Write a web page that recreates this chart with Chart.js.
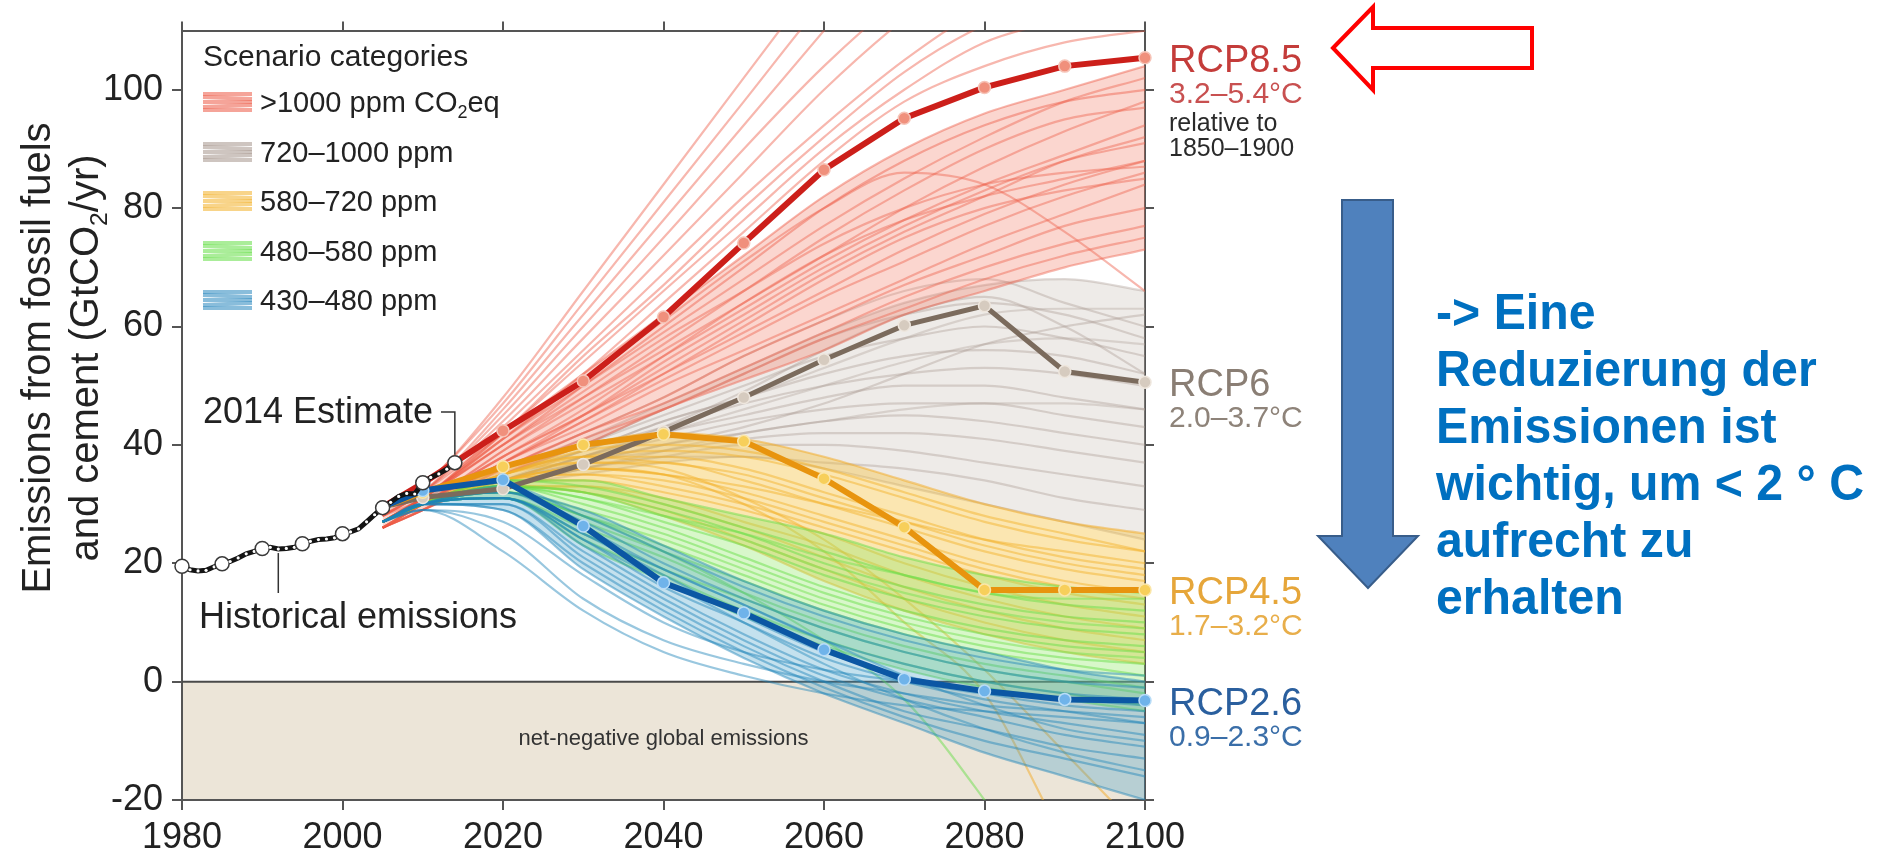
<!DOCTYPE html>
<html>
<head>
<meta charset="utf-8">
<script src="https://cdn.jsdelivr.net/npm/chart.js@4.4.1/dist/chart.umd.min.js"></script>
<style>
  html, body { margin: 0; padding: 0; background: #fff; }
  #wrap { position: relative; width: 1879px; height: 860px; overflow: hidden; background: #fff; }
  #c { position: absolute; left: 0; top: 0; }
  #arrows { position: absolute; left: 0; top: 0; }
  #note {
    position: absolute; left: 1436px; top: 284px;
    font: bold 50px 'Liberation Sans', Arial, sans-serif;
    line-height: 57px; color: #0070C0; white-space: nowrap;
    transform: scaleX(0.965); transform-origin: left top;
  }
</style>
</head>
<body>
<div id="wrap">
  <canvas id="c" width="1879" height="860"></canvas>
  <svg id="arrows" width="1879" height="860">
    <polygon points="1333,48 1373,7 1373,28 1532,28 1532,68 1373,68 1373,90"
             fill="none" stroke="#FF0000" stroke-width="4" stroke-linejoin="miter"/>
    <polygon points="1342,200 1393,200 1393,536 1418,536 1368,588 1318,536 1342,536"
             fill="#4F81BD" stroke="#385D8A" stroke-width="2"/>
  </svg>
  <div id="note">-&gt; Eine<br>Reduzierung der<br>Emissionen ist<br>wichtig, um &lt; 2 ° C<br>aufrecht zu<br>erhalten</div>
</div>
<script>
// ---- axis ticks ----
const xTicks = [1980, 2000, 2020, 2040, 2060, 2080, 2100];
const yTicks = [-20, 0, 20, 40, 60, 80, 100];

// ---- historical emissions (GtCO2/yr) ----
const histYears = [1980, 1981, 1982, 1983, 1984, 1985, 1986, 1987, 1988, 1989,
                   1990, 1991, 1992, 1993, 1994, 1995, 1996, 1997, 1998, 1999,
                   2000, 2001, 2002, 2003, 2004, 2005, 2006, 2007, 2008, 2009,
                   2010, 2011, 2012, 2013, 2014];
const histValues = [19.5, 18.9, 18.7, 18.8, 19.4, 19.9, 20.3, 20.9, 21.6, 22.0,
                    22.5, 22.7, 22.4, 22.5, 22.7, 23.3, 23.7, 24.0, 24.1, 24.3,
                    25.0, 25.3, 25.8, 27.0, 28.2, 29.4, 30.3, 31.3, 31.8, 31.7,
                    33.6, 34.5, 35.1, 35.9, 37.0];
const histMarkerYears = [1980, 1985, 1990, 1995, 2000, 2005, 2010, 2014];

// ---- RCP pathways ----
const rcpYears = [2005, 2010, 2020, 2030, 2040, 2050, 2060, 2070, 2080, 2090, 2100];
const rcp85 = [29.5, 33.5, 42.4, 50.8, 61.6, 74.1, 86.5, 95.2, 100.4, 104.0, 105.4];
const rcp6  = [29.5, 31.1, 32.6, 36.7, 42.2, 48.0, 54.4, 60.2, 63.5, 52.4, 50.6];
const rcp45 = [29.5, 32.0, 36.3, 40.0, 41.8, 40.6, 34.3, 26.1, 15.5, 15.5, 15.5];
const rcp26 = [29.5, 32.3, 34.1, 26.3, 16.7, 11.6, 5.4, 0.4, -1.6, -3.0, -3.2];
const rcpNames  = ['RCP8.5', 'RCP6', 'RCP4.5', 'RCP2.6'];
const rcpRanges = ['3.2–5.4°C', '2.0–3.7°C', '1.7–3.2°C', '0.9–2.3°C'];

// ---- scenario database pathways, by concentration category ----
const scenYears = [2005, 2010, 2020, 2030, 2040, 2050, 2060, 2070, 2080, 2090, 2100];
const scenOver1000 = [
  [29, 33, 48, 66, 84, 102, 120, 138, 150, 160, 170],
  [28, 33, 47, 64, 81, 98, 115, 130, 142, 150, 156],
  [28, 32, 46, 62, 78, 94, 110, 126, 140, 150, 160],
  [28, 32, 45, 60, 75, 90, 104, 116, 126, 134, 140],
  [28, 32, 44, 58, 72, 86, 100, 112, 122, 130, 138],
  [28, 31, 43, 56, 69, 82, 94, 105, 114, 120, 125],
  [27, 31, 42, 55, 67, 80, 92, 103, 111, 116, 120],
  [27, 31, 42, 54, 66, 78, 90, 100, 108, 112, 116],
  [27, 31, 40, 50, 60, 70, 80, 88, 94, 98, 100],
  [28, 32, 42, 52, 62, 72, 82, 90, 96, 100, 104],
  [27, 31, 41, 50, 59, 68, 77, 85, 92, 98, 102],
  [27, 31, 40, 48, 56, 64, 72, 80, 87, 93, 98],
  [27, 31, 41, 51, 61, 71, 80, 86, 84, 76, 66],
  [27, 31, 40, 49, 58, 66, 74, 80, 84, 86, 87],
  [27, 30, 39, 47, 55, 63, 71, 78, 84, 89, 94],
  [26, 30, 38, 46, 55, 64, 72, 78, 82, 85, 88],
  [26, 30, 38, 45, 53, 61, 69, 76, 82, 88, 92],
  [26, 30, 38, 45, 52, 59, 66, 73, 79, 84, 88],
  [26, 30, 37, 44, 52, 60, 68, 75, 80, 83, 85],
  [26, 30, 37, 44, 51, 58, 65, 71, 77, 82, 86],
  [26, 29, 37, 43, 50, 56, 62, 68, 74, 79, 84],
  [26, 29, 36, 42, 48, 55, 61, 67, 72, 77, 80],
  [26, 29, 36, 42, 47, 53, 59, 65, 70, 74, 77],
  [26, 29, 35, 41, 46, 52, 58, 63, 68, 72, 75],
  [26, 29, 35, 40, 46, 51, 56, 62, 66, 70, 73],
  [27, 30, 39, 48, 57, 66, 75, 83, 90, 95, 97],
  [26, 30, 37, 45, 54, 62, 70, 77, 83, 88, 91],
  [27, 31, 41, 52, 64, 76, 88, 98, 104, 108, 110]
];
const scen720to1000 = [
  [27, 31, 36, 42, 48, 55, 61, 66, 68, 64, 60],
  [27, 30, 35, 40, 46, 52, 58, 62, 64, 62, 58],
  [27, 30, 35, 40, 45, 50, 55, 58, 60, 58, 55],
  [27, 30, 35, 39, 44, 48, 52, 55, 56, 55, 52],
  [27, 30, 34, 39, 43, 47, 50, 52, 53, 52, 50],
  [27, 30, 34, 38, 42, 45, 48, 50, 50, 48, 46],
  [27, 30, 34, 38, 41, 44, 46, 47, 47, 45, 43],
  [27, 30, 34, 37, 40, 42, 44, 45, 44, 42, 40],
  [27, 30, 33, 37, 39, 41, 42, 42, 41, 39, 37],
  [27, 30, 33, 36, 38, 40, 40, 39, 37, 35, 33],
  [27, 30, 33, 36, 38, 38, 37, 36, 34, 31, 29],
  [27, 30, 34, 38, 43, 49, 56, 62, 65, 60, 52],
  [27, 30, 34, 37, 40, 43, 47, 52, 57, 60, 62],
  [27, 30, 33, 35, 37, 38, 36, 33, 30, 27, 24],
  [27, 31, 36, 41, 47, 53, 59, 64, 67, 68, 66],
  [27, 30, 35, 39, 44, 48, 53, 58, 62, 63, 63],
  [27, 30, 34, 38, 42, 46, 50, 54, 57, 58, 57],
  [27, 30, 33, 36, 39, 42, 44, 46, 47, 47, 46]
];
const scen580to720 = [
  [27, 30, 36, 40, 42, 41, 38, 34, 30, 27, 25],
  [27, 30, 35, 39, 40, 39, 36, 32, 28, 25, 22],
  [27, 30, 35, 38, 38, 36, 32, 28, 24, 21, 19],
  [27, 30, 35, 37, 37, 34, 30, 26, 22, 19, 17],
  [27, 30, 34, 36, 35, 32, 28, 24, 20, 17, 15],
  [27, 30, 34, 35, 33, 30, 26, 22, 18, 15, 13],
  [27, 30, 34, 34, 32, 29, 25, 20, 16, 13, 11],
  [27, 30, 33, 33, 31, 27, 23, 18, 14, 11, 9],
  [27, 30, 33, 33, 30, 26, 21, 16, 12, 9, 7],
  [27, 30, 33, 32, 29, 24, 19, 14, 10, 7, 5],
  [27, 30, 33, 32, 28, 23, 17, 12, 8, 5, 3],
  [27, 30, 34, 36, 35, 30, 22, 10, -2, -27, -50],
  [27, 30, 35, 38, 39, 38, 35, 31, 27, 24, 22],
  [27, 30, 34, 36, 35, 33, 30, 27, 24, 22, 20],
  [27, 30, 34, 37, 36, 31, 24, 14, 2, -12, -26],
  [27, 30, 35, 38, 37, 35, 31, 27, 23, 20, 18],
  [27, 30, 34, 35, 34, 31, 27, 23, 19, 16, 14]
];
const scen480to580 = [
  [27, 30, 34, 33, 30, 26, 22, 18, 15, 13, 12],
  [27, 30, 33, 32, 29, 25, 20, 16, 13, 11, 10],
  [27, 30, 33, 31, 27, 23, 18, 14, 11, 9, 8],
  [27, 30, 33, 30, 26, 21, 16, 12, 9, 7, 6],
  [27, 30, 32, 29, 25, 20, 15, 11, 8, 6, 5],
  [27, 30, 32, 28, 23, 18, 13, 9, 6, 4, 3],
  [27, 30, 32, 27, 22, 17, 12, 8, 5, 3, 1],
  [27, 30, 31, 26, 21, 15, 10, 6, 3, 1, -1],
  [27, 30, 31, 25, 19, 14, 9, 5, 2, 0, -2],
  [27, 30, 31, 24, 18, 12, 7, 3, 0, -2, -4],
  [27, 30, 31, 23, 17, 11, 6, 2, -1, -3, -5],
  [27, 30, 32, 28, 22, 15, 7, -3, -20, -40, -60],
  [27, 30, 34, 34, 31, 28, 25, 21, 18, 16, 15],
  [27, 30, 33, 31, 28, 25, 21, 18, 15, 14, 14],
  [27, 30, 33, 32, 28, 24, 19, 15, 12, 10, 9],
  [27, 30, 32, 28, 24, 19, 14, 10, 7, 5, 4]
];
const scen430to480 = [
  [27, 30, 33, 28, 22, 16, 11, 7, 4, 2, 1],
  [27, 30, 32, 27, 20, 14, 9, 5, 2, 0, -1],
  [27, 30, 32, 26, 19, 13, 7, 3, 0, -2, -3],
  [27, 30, 31, 25, 18, 11, 5, 1, -2, -4, -5],
  [27, 30, 31, 24, 16, 10, 4, 0, -3, -5, -7],
  [27, 30, 31, 23, 15, 8, 2, -2, -5, -7, -9],
  [27, 30, 30, 22, 14, 7, 1, -3, -6, -9, -11],
  [27, 30, 30, 21, 13, 6, 0, -5, -8, -11, -13],
  [27, 30, 29, 20, 12, 5, -1, -6, -10, -13, -16],
  [27, 30, 29, 19, 11, 4, -2, -7, -12, -16, -20],
  [27, 29, 25, 14, 7, 3, 0, -2, -4, -5, -6],
  [27, 29, 22, 12, 5, 1, -2, -4, -5, -6, -7],
  [27, 29, 27, 18, 10, 5, 2, 0, -2, -3, -4],
  [27, 30, 32, 29, 23, 17, 12, 8, 5, 2, 0],
  [27, 30, 31, 24, 17, 10, 3, -3, -8, -12, -15],
  [27, 30, 31, 25, 19, 13, 7, 1, -4, -8, -10]
];

// ---- legend text ----
const legendTitle = 'Scenario categories';
const legendLabels = [
  [{ t: '>1000 ppm CO' }, { t: '2', sub: true }, { t: 'eq' }],
  [{ t: '720–1000 ppm' }],
  [{ t: '580–720 ppm' }],
  [{ t: '480–580 ppm' }],
  [{ t: '430–480 ppm' }]
];

const FONT = "'Liberation Sans', Arial, Helvetica, sans-serif";
Chart.defaults.font.family = FONT;

const cat = {
  red:    { line: 'rgba(236, 84, 62, 0.42)',  band: 'rgba(242, 118, 96, 0.30)', swatch: 'rgba(236, 90, 70, 0.55)' },
  gray:   { line: 'rgba(165, 150, 140, 0.36)', band: 'rgba(200, 188, 180, 0.30)', swatch: 'rgba(165, 150, 140, 0.55)' },
  orange: { line: 'rgba(242, 168, 30, 0.48)', band: 'rgba(246, 192, 60, 0.40)', swatch: 'rgba(242, 176, 40, 0.55)' },
  green:  { line: 'rgba(100, 222, 70, 0.48)',  band: 'rgba(140, 232, 100, 0.34)', swatch: 'rgba(100, 222, 70, 0.55)' },
  blue:   { line: 'rgba(28, 130, 185, 0.45)', band: 'rgba(60, 155, 200, 0.30)', swatch: 'rgba(40, 135, 190, 0.55)' }
};

function pts(xs, ys) { return xs.map((x, i) => ({ x: x, y: ys[i] })); }

const datasets = [];
function addCategory(rows, style, order, bandTop, bandBottom) {
  const base = datasets.length;
  rows.forEach(r => {
    datasets.push({
      data: pts(scenYears, r), borderColor: style.line, borderWidth: 2.2,
      pointRadius: 0, cubicInterpolationMode: 'monotone', order: order, fill: false
    });
  });
  datasets[base + bandTop].fill = { target: base + bandBottom, above: style.band, below: style.band };
}
addCategory(scen720to1000, cat.gray, 14, 14, 13);
addCategory(scenOver1000, cat.red, 13, 9, 24);
addCategory(scen580to720, cat.orange, 12, 0, 10);
addCategory(scen480to580, cat.green, 11, 12, 10);
addCategory(scen430to480, cat.blue, 10, 13, 9);

function rcpSet(values, line, fillPt, borderPt, width, order) {
  return {
    data: pts(rcpYears, values), borderColor: line, borderWidth: width,
    pointRadius: 6, pointBackgroundColor: fillPt, pointBorderColor: borderPt,
    pointBorderWidth: 1.5, order: order, clip: false, fill: false
  };
}
const rcpSets = [
  rcpSet(rcp85, '#cc1f1a', '#f0907c', '#f6c4b8', 6, 2),
  rcpSet(rcp6,  '#7b6b5d', '#d6cbbf', '#eee6dd', 5, 4),
  rcpSet(rcp45, '#e8940e', '#f7cf5a', '#fbe6a8', 6, 3),
  rcpSet(rcp26, '#0b57a4', '#6fb3ea', '#b8dcf7', 6, 1)
];
rcpSets.forEach(d => datasets.push(d));
const rcpValues = [rcp85, rcp6, rcp45, rcp26];
const rcpLabelColors = ['#c43c3a', '#8a7e74', '#e6a63a', '#2a5f9e'];
const rcpRangeColors = ['#c85050', '#8e8379', '#e8ae4a', '#3a6ea8'];

const isMarker = i => histMarkerYears.indexOf(histYears[i]) >= 0;
datasets.push({
  data: pts(histYears, histValues), borderColor: '#141414', borderWidth: 5,
  order: 0, clip: false, fill: false,
  pointRadius: c => isMarker(c.dataIndex) ? 7 : 1.6,
  pointBackgroundColor: '#ffffff',
  pointBorderColor: c => isMarker(c.dataIndex) ? '#3a3a3a' : '#ffffff',
  pointBorderWidth: c => isMarker(c.dataIndex) ? 1.5 : 0
});

function fnt(size) { return size + 'px ' + FONT; }
function runWidth(ctx, parts, size) {
  let w = 0;
  parts.forEach(p => { ctx.font = fnt(p.sub ? size * 0.62 : size); w += ctx.measureText(p.t).width; });
  return w;
}
function drawRun(ctx, x, y, parts, size) {
  parts.forEach(p => {
    const s = p.sub ? size * 0.62 : size;
    ctx.font = fnt(s);
    ctx.fillText(p.t, x, y + (p.sub ? size * 0.22 : 0));
    x += ctx.measureText(p.t).width;
  });
}

const decorations = {
  id: 'decorations',
  beforeDraw(chart) {
    const { ctx, chartArea: a, scales: { y } } = chart;
    ctx.save();
    ctx.fillStyle = '#ffffff';
    ctx.fillRect(0, 0, chart.width, chart.height);
    const y0 = y.getPixelForValue(0);
    ctx.fillStyle = '#ece5d8';
    ctx.fillRect(a.left, y0, a.right - a.left, a.bottom - y0);
    ctx.restore();
  },
  beforeDatasetsDraw(chart) {
    const { ctx, chartArea: a, scales: { y } } = chart;
    ctx.save();
    const y0 = y.getPixelForValue(0);
    ctx.strokeStyle = '#4a4a4a';
    ctx.lineWidth = 2;
    ctx.beginPath(); ctx.moveTo(a.left, y0); ctx.lineTo(a.right, y0); ctx.stroke();
    ctx.fillStyle = '#333';
    ctx.font = fnt(22);
    ctx.textAlign = 'center';
    ctx.textBaseline = 'middle';
    ctx.fillText('net-negative global emissions', (a.left + a.right) / 2, y.getPixelForValue(-9.6));
    ctx.restore();
  },
  afterDraw(chart) {
    const { ctx, chartArea: a, scales: { x, y } } = chart;
    ctx.save();
    ctx.fillStyle = '#222';
    ctx.textBaseline = 'alphabetic';
    ctx.textAlign = 'left';

    // y axis title, two rotated lines
    const titleLines = [
      { bx: 50, parts: [{ t: 'Emissions from fossil fuels' }] },
      { bx: 98, parts: [{ t: 'and cement (GtCO' }, { t: '2', sub: true }, { t: '/yr)' }] }
    ];
    titleLines.forEach(l => {
      const w = runWidth(ctx, l.parts, 40);
      ctx.save();
      ctx.translate(l.bx, 358);
      ctx.rotate(-Math.PI / 2);
      drawRun(ctx, -w / 2, 0, l.parts, 40);
      ctx.restore();
    });

    // scenario legend
    ctx.font = fnt(30);
    ctx.fillText(legendTitle, 203, 66);
    const swatches = [cat.red, cat.gray, cat.orange, cat.green, cat.blue];
    const rowY = [102, 152, 201, 251, 300];
    swatches.forEach((s, i) => {
      const cy = rowY[i];
      ctx.strokeStyle = s.swatch;
      ctx.lineWidth = 4;
      for (let k = -2; k <= 2; k++) {
        ctx.beginPath();
        ctx.moveTo(203, cy + k * 4 + (k % 2));
        ctx.lineTo(252, cy + k * 4 - (k % 2));
        ctx.stroke();
      }
      ctx.fillStyle = '#222';
      drawRun(ctx, 260, cy + 10, legendLabels[i], 29);
    });

    // historical annotations
    ctx.fillStyle = '#222';
    ctx.font = fnt(36);
    ctx.fillText('2014 Estimate', 203, 423);
    ctx.fillText('Historical emissions', 199, 628);
    ctx.strokeStyle = '#333';
    ctx.lineWidth = 1.5;
    const x14 = x.getPixelForValue(2014);
    const y14 = y.getPixelForValue(histValues[histYears.indexOf(2014)]);
    ctx.beginPath();
    ctx.moveTo(441, 412); ctx.lineTo(x14, 412); ctx.lineTo(x14, y14 - 8);
    ctx.stroke();
    const x92 = x.getPixelForValue(1992);
    const y92 = y.getPixelForValue(histValues[histYears.indexOf(1992)]);
    ctx.beginPath();
    ctx.moveTo(x92, y92 + 4); ctx.lineTo(x92, 593);
    ctx.stroke();

    // pathway labels at the right edge
    const lx = a.right + 24;
    rcpNames.forEach((n, i) => {
      const vals = rcpValues[i];
      const py = y.getPixelForValue(vals[vals.length - 1]);
      ctx.fillStyle = rcpLabelColors[i];
      ctx.font = fnt(38);
      ctx.fillText(n, lx, py + 14);
      ctx.fillStyle = rcpRangeColors[i];
      ctx.font = fnt(30);
      ctx.fillText(rcpRanges[i], lx, py + 45);
      if (i === 0) {
        ctx.fillStyle = '#2a2a2a';
        ctx.font = fnt(25);
        ctx.fillText('relative to', lx, py + 73);
        ctx.fillText('1850–1900', lx, py + 98);
      }
    });
    ctx.restore();
  }
};

const axisLine = { color: '#555', width: 2 };
const tickFont = { size: 36, family: FONT };

new Chart(document.getElementById('c'), {
  type: 'line',
  data: { datasets: datasets },
  options: {
    responsive: false,
    animation: false,
    events: [],
    layout: { padding: 0 },
    plugins: { legend: { display: false }, tooltip: { enabled: false } },
    scales: {
      x: {
        type: 'linear', position: 'bottom', min: 1980, max: 2100,
        afterBuildTicks: s => { s.ticks = xTicks.map(v => ({ value: v })); },
        afterFit: s => { s.height = 60; },
        grid: { drawOnChartArea: false, tickLength: 10, color: '#555', lineWidth: 2 },
        border: axisLine,
        ticks: { padding: 6, color: '#222', font: tickFont, maxRotation: 0, autoSkip: false, callback: v => String(v) }
      },
      x2: {
        type: 'linear', position: 'top', min: 1980, max: 2100, display: true,
        afterBuildTicks: s => { s.ticks = xTicks.map(v => ({ value: v })); },
        afterFit: s => { s.height = 24; },
        grid: { drawOnChartArea: false, tickLength: 9, color: '#555', lineWidth: 2 },
        border: axisLine,
        ticks: { display: false }
      },
      y: {
        type: 'linear', position: 'left', min: -20, max: 110,
        afterBuildTicks: s => { s.ticks = yTicks.map(v => ({ value: v })); },
        afterFit: s => { s.width = 182; },
        grid: { drawOnChartArea: false, tickLength: 10, color: '#555', lineWidth: 2 },
        border: axisLine,
        ticks: { padding: 9, color: '#222', font: tickFont, callback: v => String(v) }
      },
      y2: {
        type: 'linear', position: 'right', min: -20, max: 110, display: true,
        afterBuildTicks: s => { s.ticks = yTicks.map(v => ({ value: v })); },
        afterFit: s => { s.width = 1879 - 1145; },
        grid: { drawOnChartArea: false, tickLength: 9, color: '#555', lineWidth: 2 },
        border: axisLine,
        ticks: { display: false }
      }
    }
  },
  plugins: [decorations]
});
</script>
</body>
</html>
